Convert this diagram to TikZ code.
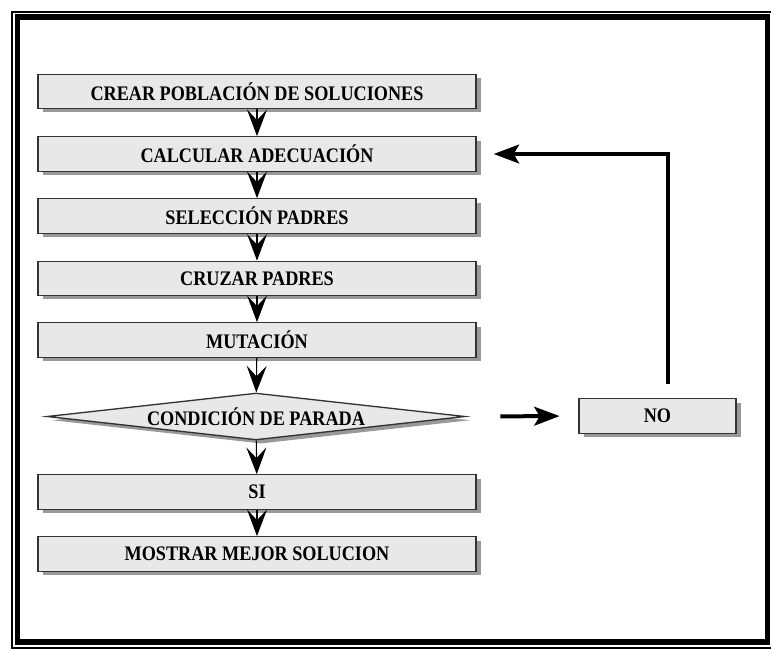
\documentclass[tikz,border=0pt]{standalone}
\usepackage{fontspec}
\setmainfont{Liberation Serif}
\newfontfamily\cajafont[FakeStretch=0.88]{Liberation Serif}
\usetikzlibrary{arrows.meta,shadows,shapes.geometric}

\tikzset{
  paso/.style={draw=black!80, line width=1pt, fill=black!9,
    minimum width=328.5pt, minimum height=25.8pt, inner sep=0pt,
    font=\cajafont\bfseries\fontsize{15.5}{15.5}\selectfont,
    drop shadow={shadow xshift=3.8pt, shadow yshift=-2.8pt, fill=black!40, opacity=1}},
  decision/.style={paso, diamond, aspect=9, minimum width=313.5pt, minimum height=35.2pt},
  flecha/.style={-{Stealth[length=20pt,width=15pt,inset=8pt]}, line width=0.8pt},
  flechagruesa/.style={-{Stealth[length=19pt,width=14pt,inset=4pt]}, line width=3pt},
}

\begin{document}
\begin{tikzpicture}[x=0.75pt, y=-0.75pt]
		%%%%% START %%%%%
		\useasboundingbox (0,0) rectangle (771,650);
		
		% marco doble
		\draw[line width=0.9pt] (12,12) rectangle (775,648);
		\draw[line width=4.2pt] (17.5,17) rectangle (767.5,642);
		
		\node[paso] (crear) at (257,91.5) {CREAR POBLACIÓN DE SOLUCIONES};
		\node[paso] (calc) at (257,154) {CALCULAR ADECUACIÓN};
		\node[paso] (selec) at (257,216) {SELECCIÓN PADRES};
		\node[paso] (cruzar) at (257,278.5) {CRUZAR PADRES};
		\node[paso] (mut) at (257,340) {MUTACIÓN};
		\node[decision] (cond) at (256,416.5) {CONDICIÓN DE PARADA};
		\node[paso] (si) at (257,492) {SI};
		\node[paso] (mostrar) at (257,554) {MOSTRAR MEJOR SOLUCION};
		\node[paso, minimum width=117.75pt] (no) at (657.5,416) {NO};
		
		\draw[flecha] (crear) -- (calc);
		\draw[flecha] (calc) -- (selec);
		\draw[flecha] (selec) -- (cruzar);
		\draw[flecha] (cruzar) -- (mut);
		\draw[flecha] (mut) -- (cond);
		\draw[flecha] (cond) -- (si);
		\draw[flecha] (si) -- (mostrar);
		
		\draw[flechagruesa, shorten <=26pt, shorten >=14pt] (cond.east) -- (no.west);
		
		\coordinate (esquina) at (668,152);
		\draw[flechagruesa, shorten <=10.5pt, shorten >=12.75pt] (no.north -| esquina) |- (calc.east);
		
		%%%%% END %%%%%
\end{tikzpicture}
\end{document}
